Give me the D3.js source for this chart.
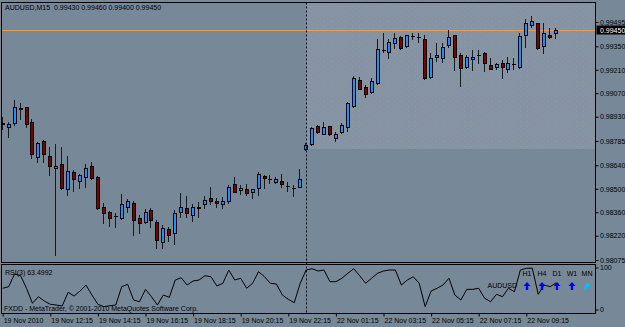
<!DOCTYPE html>
<html><head><meta charset="utf-8">
<script src="https://cdn.jsdelivr.net/npm/d3@7"></script>
<style>
html,body{margin:0;padding:0;background:#778899;overflow:hidden;}
svg{display:block;}
</style></head><body>
<svg id="c" width="625" height="327"></svg>
<script>
// ---------- data ----------
const symbol = "AUDUSD,M15";
const timeTickIndex = [0, 8, 16, 24, 32, 40, 48, 56, 64, 72, 80, 88];
const timeLabels = ["19 Nov 2010","19 Nov 12:15","19 Nov 14:15","19 Nov 16:15","19 Nov 18:15","19 Nov 20:15",
  "19 Nov 22:15","22 Nov 01:15","22 Nov 03:15","22 Nov 05:15","22 Nov 07:15","22 Nov 09:15"];
const priceTicks = [0.99495,0.99350,0.99210,0.99070,0.98930,0.98785,0.98640,0.98500,0.98360,0.98220,0.98075];
const separatorIndex = 51;   // first bar of 22 Nov
const rsiLabels = [100, 0];
const tfLabels = ["H1","H4","D1","W1","MN"];
const tfSignal = ["up","up","up","up","upright"];

const open = [0.98888,0.98867,0.98894,0.98980,0.98986,0.98897,0.98691,0.98787,0.98694,0.98622,
0.98648,0.98497,0.98598,0.98545,0.98572,0.98636,0.98572,0.98393,0.98363,0.98338,
0.98324,0.98393,0.98417,0.98324,0.98304,0.98373,0.98304,0.98184,0.98258,0.98234,
0.98363,0.98384,0.98344,0.98384,0.98407,0.98447,0.98427,0.98407,0.98429,0.98529,
0.98493,0.98497,0.98483,0.98503,0.98576,0.98558,0.98542,0.98546,0.98518,0.98503,
0.98512,0.98735,0.98765,0.98874,0.98827,0.98874,0.98805,0.98837,0.98867,0.98996,
0.99147,0.99105,0.99076,0.99133,0.99327,0.99318,0.99368,0.99407,0.99352,0.99412,
0.99408,0.99392,0.99165,0.99288,0.99278,0.99358,0.99416,0.99296,0.99225,0.99276,
0.99298,0.99312,0.99238,0.99225,0.99252,0.99215,0.99245,0.99225,0.99417,0.99477,
0.99487,0.99352,0.99417,0.99430];
const high = [0.98928,0.98898,0.99030,0.99010,0.98988,0.98916,0.98781,0.98791,0.98747,0.98767,
0.98747,0.98696,0.98612,0.98588,0.98648,0.98660,0.98576,0.98413,0.98366,0.98354,
0.98467,0.98437,0.98427,0.98344,0.98378,0.98384,0.98314,0.98284,0.98274,0.98373,
0.98473,0.98457,0.98409,0.98423,0.98457,0.98512,0.98443,0.98453,0.98523,0.98569,
0.98523,0.98529,0.98499,0.98602,0.98582,0.98582,0.98572,0.98586,0.98542,0.98523,
0.98616,0.98771,0.98867,0.98879,0.98900,0.98877,0.98841,0.98891,0.99020,0.99173,
0.99169,0.99119,0.99159,0.99392,0.99431,0.99394,0.99428,0.99412,0.99419,0.99428,
0.99428,0.99417,0.99308,0.99368,0.99368,0.99447,0.99418,0.99308,0.99298,0.99328,
0.99328,0.99314,0.99278,0.99252,0.99268,0.99288,0.99278,0.99431,0.99511,0.99531,
0.99491,0.99487,0.99457,0.99460];
const low = [0.98857,0.98811,0.98882,0.98914,0.98867,0.98685,0.98662,0.98662,0.98582,0.98105,
0.98500,0.98463,0.98487,0.98503,0.98512,0.98557,0.98382,0.98294,0.98280,0.98274,
0.98320,0.98360,0.98224,0.98238,0.98294,0.98274,0.98145,0.98145,0.98190,0.98170,
0.98333,0.98330,0.98310,0.98333,0.98384,0.98409,0.98393,0.98384,0.98413,0.98480,
0.98469,0.98463,0.98443,0.98463,0.98503,0.98533,0.98533,0.98512,0.98487,0.98457,
0.98510,0.98731,0.98763,0.98831,0.98825,0.98821,0.98787,0.98831,0.98845,0.98990,
0.99093,0.99046,0.99070,0.99125,0.99316,0.99282,0.99338,0.99334,0.99348,0.99395,
0.99377,0.99157,0.99159,0.99264,0.99258,0.99348,0.99209,0.99113,0.99219,0.99209,
0.99249,0.99204,0.99212,0.99215,0.99159,0.99198,0.99215,0.99219,0.99348,0.99467,
0.99332,0.99308,0.99398,0.99400];
const close = [0.98890,0.98885,0.98986,0.98978,0.98885,0.98708,0.98775,0.98708,0.98636,0.98636,
0.98503,0.98606,0.98557,0.98584,0.98624,0.98566,0.98384,0.98354,0.98324,0.98340,
0.98407,0.98427,0.98312,0.98294,0.98361,0.98314,0.98194,0.98264,0.98224,0.98354,
0.98393,0.98354,0.98393,0.98393,0.98433,0.98429,0.98413,0.98427,0.98512,0.98483,
0.98503,0.98473,0.98497,0.98586,0.98563,0.98557,0.98557,0.98529,0.98517,0.98502,
0.98557,0.98761,0.98861,0.98837,0.98867,0.98827,0.98827,0.98879,0.99010,0.99159,
0.99097,0.99065,0.99145,0.99336,0.99326,0.99376,0.99398,0.99338,0.99416,0.99411,
0.99407,0.99159,0.99278,0.99298,0.99348,0.99408,0.99288,0.99219,0.99288,0.99288,
0.99297,0.99249,0.99215,0.99243,0.99225,0.99252,0.99244,0.99412,0.99487,0.99501,
0.99338,0.99431,0.99407,0.99450];
const rsi = [50.5,54.3,84.5,80.5,50.5,14.8,30.5,20.2,12.4,10.7,
8.3,41.0,32.0,44.0,58.0,34.5,12.4,6.7,9.0,10.7,
54.3,60.0,22.6,18.6,48.0,30.5,10.7,34.5,29.0,70.2,
75.7,58.3,67.9,70.2,80.5,78.0,56.0,62.4,94.0,70.2,
74.3,50.5,62.4,90.0,78.0,62.4,60.7,34.5,24.3,16.2,
62.4,94.0,97.0,91.7,94.0,66.2,66.2,74.3,86.2,97.0,
80.5,62.4,74.3,86.2,91.7,94.0,94.0,58.3,70.2,78.0,
62.4,6.7,44.0,50.5,58.3,74.3,34.5,22.6,48.0,48.0,
50.5,26.7,18.6,36.2,30.5,50.5,42.4,94.0,98.0,98.5,
36.2,58.3,54.3,63.4992];

// ---------- layout ----------
const FONT = "'Liberation Sans', Arial, sans-serif";
const L = 1.5, R = 595.5, T = 2.5, MB = 262.5, RT = 264.5, RB = 313.5;
const BG = "#778899", SHADE = "#8594a5", UP = "#1e90ff", DN = "#800000", BID = "#e0a050";

const svg = d3.select("#c");
svg.append("rect").attr("width",625).attr("height",327).attr("fill",BG);

const n = close.length;
const x = d3.scaleLinear().domain([0, n-1]).range([2.7, 2.7 + (n-1)*5.95]);
const y = d3.scaleLinear().domain([0.98075, 0.99495]).range([260, 22]);
const yr = d3.scaleLinear().domain([0, 100]).range([309.5, 267.5]);

// shaded zone with speckle
const defs = svg.append("defs");
const pat = defs.append("pattern").attr("id","sp").attr("patternUnits","userSpaceOnUse")
  .attr("width",7).attr("height",5);
pat.append("rect").attr("width",7).attr("height",5).attr("fill",SHADE);
pat.append("rect").attr("x",2).attr("y",1).attr("width",1).attr("height",1).attr("fill","#b8977a").attr("opacity",0.6);
pat.append("rect").attr("x",5).attr("y",3).attr("width",1).attr("height",1).attr("fill","#a8957f").attr("opacity",0.45);
const sx = Math.round(x(separatorIndex));
svg.append("rect").attr("x",sx).attr("y",T).attr("width",R-sx).attr("height",y(0.98785)+8-T)
  .attr("fill","url(#sp)");

// bid line
const bidY = Math.round(y(close[n-1])) + 0.5;
svg.append("line").attr("x1",L).attr("x2",R).attr("y1",bidY).attr("y2",bidY)
  .attr("stroke",BID).attr("stroke-width",1);

// candles
const g = svg.append("g");
for (let i = 0; i < n; i++) {
  const c = Math.round(x(i));
  const yh = Math.round(y(high[i])), yl = Math.round(y(low[i]));
  const yo = Math.round(y(open[i])), yc = Math.round(y(close[i]));
  g.append("line").attr("x1",c-0.5).attr("x2",c-0.5).attr("y1",yh).attr("y2",yl+1)
    .attr("stroke","#1a1a1a").attr("stroke-width",1);
  const top = Math.min(yo,yc), h = Math.abs(yo-yc);
  if (h < 1) {
    g.append("line").attr("x1",c-2).attr("x2",c+2).attr("y1",top+0.5).attr("y2",top+0.5)
      .attr("stroke","#000").attr("stroke-width",1);
  } else {
    g.append("rect").attr("x",c-1.5).attr("y",top+0.5).attr("width",3).attr("height",h)
      .attr("fill", close[i] >= open[i] ? UP : DN).attr("stroke","#000").attr("stroke-width",1);
  }
}

// separator
svg.append("line").attr("x1",sx+0.5).attr("x2",sx+0.5).attr("y1",T).attr("y2",RB)
  .attr("stroke","#000").attr("stroke-dasharray","2,2");

// RSI line
svg.append("path").datum(rsi)
  .attr("d", d3.line().x((d,i)=>x(i)).y(d=>yr(d)))
  .attr("fill","none").attr("stroke","#000").attr("stroke-width",1);

// frames
svg.append("rect").attr("x",L).attr("y",T).attr("width",R-L).attr("height",MB-T)
  .attr("fill","none").attr("stroke","#000");
svg.append("rect").attr("x",L).attr("y",RT).attr("width",R-L).attr("height",RB-RT)
  .attr("fill","none").attr("stroke","#000");

// price axis
const gy = svg.append("g").attr("transform",`translate(${R},0)`)
  .call(d3.axisRight(y).tickValues(priceTicks).tickFormat(d3.format(".5f")).tickSize(3).tickPadding(1.5));
gy.select(".domain").remove();
gy.attr("font-family",FONT).attr("font-size",7);
gy.selectAll(".tick line").attr("stroke","#000");
gy.selectAll(".tick text").attr("fill","#000");

// current price label
const cp = svg.append("g");
cp.append("rect").attr("x",R+1).attr("y",bidY-5).attr("width",625-R-1).attr("height",9).attr("fill","#000");
cp.append("text").attr("x",R+4.5).attr("y",bidY).attr("dy","0.33em")
  .attr("font-family",FONT).attr("font-size",7).attr("fill","#fff").text(d3.format(".5f")(close[n-1]));

// RSI axis labels
const gr = svg.append("g").attr("transform",`translate(${R},0)`)
  .call(d3.axisRight(yr).tickValues(rsiLabels).tickSize(3).tickPadding(1.5));
gr.select(".domain").remove();
gr.attr("font-family",FONT).attr("font-size",7);
gr.selectAll(".tick line").attr("stroke","#000");
gr.selectAll(".tick text").attr("fill","#000");

// time axis
const gx = svg.append("g").attr("transform",`translate(0,${RB})`)
  .call(d3.axisBottom(x).tickValues(timeTickIndex).tickFormat((d,i)=>timeLabels[i]).tickSize(3).tickPadding(2));
gx.select(".domain").remove();
gx.attr("font-family",FONT).attr("font-size",7);
gx.selectAll(".tick line").attr("stroke","#000");
gx.selectAll(".tick text").attr("fill","#000").attr("text-anchor","start").attr("x",0.5);

// texts
const txt = (tx,ty,s,extra) => { const t = svg.append("text").attr("x",tx).attr("y",ty)
  .attr("font-family",FONT).attr("font-size",7).attr("fill","#000").text(s); if(extra) extra(t); return t; };
txt(5, 9.5, `${symbol}  ${d3.format(".5f")(open[n-1])} ${d3.format(".5f")(high[n-1])} ${d3.format(".5f")(low[n-1])} ${d3.format(".5f")(close[n-1])}`)
  .attr("xml:space","preserve").style("white-space","pre");
txt(5, 275, `RSI(3) ${rsi[n-1]}`);
txt(4, 311, "FXDD - MetaTrader, © 2001-2010 MetaQuotes Software Corp.");
txt(487.5, 288, symbol.split(",")[0]);

// timeframe signals
const tfx = d3.scalePoint().domain(tfLabels).range([527, 587]);
tfLabels.forEach((lab, k) => {
  const cx = tfx(lab), cy = 286;
  txt(cx, 275.5, lab, t => t.attr("text-anchor","middle"));
  const p = d3.path();
  p.moveTo(cx, cy-4); p.lineTo(cx+3.5, cy); p.lineTo(cx+1.2, cy); p.lineTo(cx+1.2, cy+4);
  p.lineTo(cx-1.2, cy+4); p.lineTo(cx-1.2, cy); p.lineTo(cx-3.5, cy); p.closePath();
  const a = svg.append("path").attr("d", p.toString())
    .attr("fill", tfSignal[k] === "up" ? "#0000ff" : "#00bfff");
  if (tfSignal[k] === "upright") a.attr("transform", `rotate(45 ${cx} ${cy})`);
});
</script>
</body></html>
